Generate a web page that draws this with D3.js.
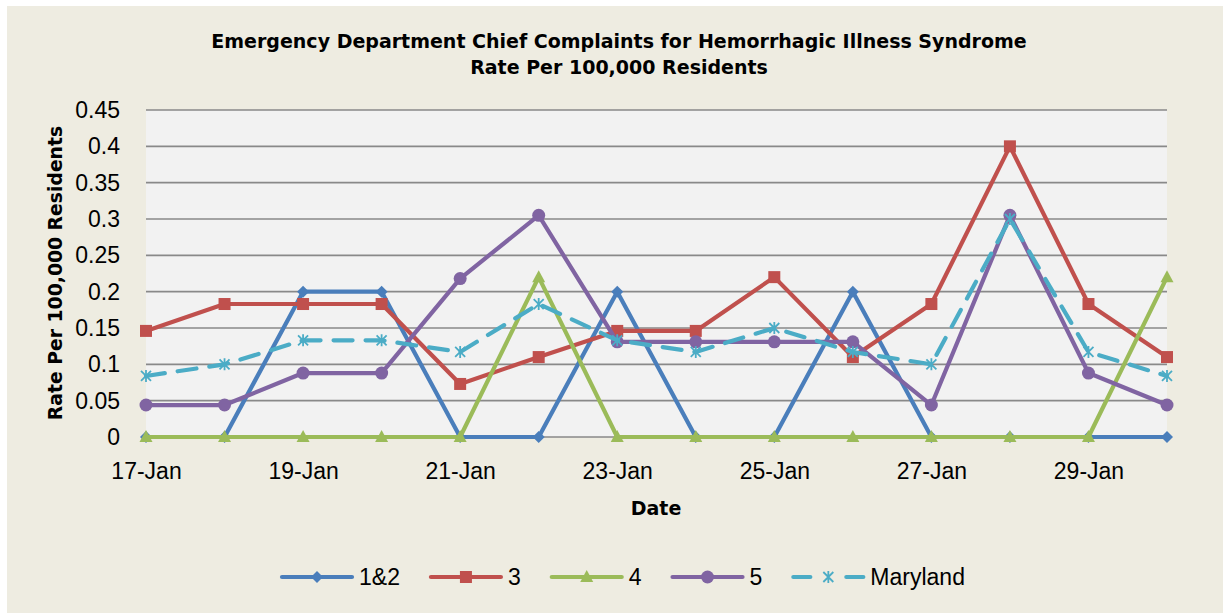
<!DOCTYPE html>
<html>
<head>
  <meta charset="utf-8">
  <title>hemorrhagic-illness</title>
  <style>
    * { margin: 0; padding: 0; }
    body { width: 1223px; height: 613px; background: #fff; overflow: hidden; }
    svg { display: block; }
    .tick text { font-family: "Liberation Sans", Arial, sans-serif; font-size: 23px; fill: #000; }
    .bold { font-family: "DejaVu Sans", Verdana, sans-serif; font-weight: bold; }
  </style>
</head>
<body>
  <svg id="chart"></svg>
  <script src="https://cdnjs.cloudflare.com/ajax/libs/d3/7.8.5/d3.min.js"></script>
  <script>
    // values
    const dates = ['17-Jan', '18-Jan', '19-Jan', '20-Jan', '21-Jan', '22-Jan', '23-Jan',
      '24-Jan', '25-Jan', '26-Jan', '27-Jan', '28-Jan', '29-Jan', '30-Jan'];
    const region12 = [0, 0, 0.2, 0.2, 0, 0, 0.2, 0, 0, 0.2, 0, 0, 0, 0];
    const region3 = [0.146, 0.183, 0.183, 0.183, 0.073, 0.11, 0.146, 0.146, 0.22, 0.11, 0.183, 0.4, 0.183, 0.11];
    const region4 = [0, 0, 0, 0, 0, 0.22, 0, 0, 0, 0, 0, 0, 0, 0.22];
    const region5 = [0.044, 0.044, 0.088, 0.088, 0.218, 0.305, 0.131, 0.131, 0.131, 0.131, 0.044, 0.305, 0.088, 0.044];
    const maryland = [0.084, 0.1, 0.133, 0.133, 0.117, 0.183, 0.133, 0.117, 0.15, 0.117, 0.1, 0.3, 0.117, 0.084];
    const seriesNames = ['1&2', '3', '4', '5', 'Maryland'];
    const yTicks = [0, 0.05, 0.1, 0.15, 0.2, 0.25, 0.3, 0.35, 0.4, 0.45];
    const xTickLabels = ['17-Jan', '19-Jan', '21-Jan', '23-Jan', '25-Jan', '27-Jan', '29-Jan'];

    const colors = ['#4a7ebb', '#c0504d', '#9bbb59', '#8064a2', '#4bacc6'];
    const shapes = ['diamond', 'square', 'triangle', 'circle', 'star'];
    const seriesValues = [region12, region3, region4, region5, maryland];

    const W = 1223, H = 613;
    const plot = { left: 146, right: 1167, top: 110, bottom: 437 };

    const svg = d3.select('#chart').attr('width', W).attr('height', H);

    svg.append('rect').attr('x', 7).attr('y', 6).attr('width', W - 7).attr('height', H - 6)
      .attr('fill', '#eeece1');
    svg.append('rect').attr('x', plot.left).attr('y', plot.top)
      .attr('width', plot.right - plot.left).attr('height', plot.bottom - plot.top)
      .attr('fill', '#f2f2f2');

    const x = d3.scalePoint().domain(dates).range([plot.left, plot.right]);
    const y = d3.scaleLinear().domain([0, 0.45]).range([plot.bottom, plot.top]);

    // grid
    svg.append('g').selectAll('line').data(yTicks).enter().append('line')
      .attr('x1', plot.left).attr('x2', plot.right)
      .attr('y1', d => y(d)).attr('y2', d => y(d))
      .attr('stroke', '#898989').attr('stroke-width', 1.6);

    const yAxis = svg.append('g').attr('transform', `translate(${plot.left},0)`)
      .call(d3.axisLeft(y).tickValues(yTicks).tickSize(0).tickPadding(26).tickFormat(d => String(d)));
    yAxis.select('.domain').remove();

    const xAxis = svg.append('g').attr('transform', `translate(0,${plot.bottom})`)
      .call(d3.axisBottom(x).tickValues(xTickLabels).tickSize(0).tickPadding(26));
    xAxis.select('.domain').remove();

    // titles
    const title = svg.append('text').attr('class', 'bold').attr('text-anchor', 'middle')
      .attr('font-size', 19).attr('x', 619);
    title.append('tspan').attr('x', 619).attr('y', 48)
      .text('Emergency Department Chief Complaints for Hemorrhagic Illness Syndrome');
    title.append('tspan').attr('x', 619).attr('y', 74).text('Rate Per 100,000 Residents');

    svg.append('text').attr('class', 'bold').attr('font-size', 18.8).attr('text-anchor', 'middle')
      .attr('transform', 'translate(62,273) rotate(-90)').text('Rate Per 100,000 Residents');
    svg.append('text').attr('class', 'bold').attr('font-size', 19).attr('text-anchor', 'middle')
      .attr('x', 656).attr('y', 515).text('Date');

    function marker(g, shape, color, cx, cy) {
      if (shape === 'diamond') {
        g.append('path').attr('d', `M${cx},${cy - 6}L${cx + 6},${cy}L${cx},${cy + 6}L${cx - 6},${cy}Z`).attr('fill', color);
      } else if (shape === 'square') {
        g.append('rect').attr('x', cx - 6).attr('y', cy - 6).attr('width', 12).attr('height', 12).attr('fill', color);
      } else if (shape === 'triangle') {
        g.append('path').attr('d', `M${cx},${cy - 7}L${cx + 6.5},${cy + 5}L${cx - 6.5},${cy + 5}Z`).attr('fill', color);
      } else if (shape === 'circle') {
        g.append('circle').attr('cx', cx).attr('cy', cy).attr('r', 6.5).attr('fill', color);
      } else {
        g.append('path')
          .attr('d', `M${cx - 5},${cy - 5}L${cx + 5},${cy + 5}M${cx + 5},${cy - 5}L${cx - 5},${cy + 5}M${cx},${cy - 6}L${cx},${cy + 6}`)
          .attr('stroke', color).attr('stroke-width', 1.8).attr('fill', 'none');
      }
    }

    const line = d3.line().x((d, i) => x(dates[i])).y(d => y(d));

    seriesValues.forEach((vals, k) => {
      const g = svg.append('g');
      const p = g.append('path').datum(vals).attr('d', line)
        .attr('fill', 'none').attr('stroke', colors[k]).attr('stroke-width', 4.2)
        .attr('stroke-linejoin', 'round').attr('stroke-linecap', 'round');
      if (k === 4) p.attr('stroke-dasharray', '19,13');
      vals.forEach((v, i) => marker(g, shapes[k], colors[k], x(dates[i]), y(v)));
    });

    // legend
    const legend = svg.append('g');
    let lx = 282;
    const ly = 577;
    seriesNames.forEach((name, k) => {
      const g = legend.append('g');
      const l = g.append('line').attr('x1', lx).attr('x2', lx + 70).attr('y1', ly).attr('y2', ly)
        .attr('stroke', colors[k]).attr('stroke-width', 4.2).attr('stroke-linecap', 'round');
      if (k === 4) l.attr('stroke-dasharray', '17,36');
      marker(g, shapes[k], colors[k], lx + 35, ly);
      const t = g.append('text').attr('x', lx + 77).attr('y', ly + 8)
        .attr('font-family', '"Liberation Sans", Arial, sans-serif').attr('font-size', 23).text(name);
      lx += 77 + t.node().getComputedTextLength() + 31;
    });
  </script>
</body>
</html>
